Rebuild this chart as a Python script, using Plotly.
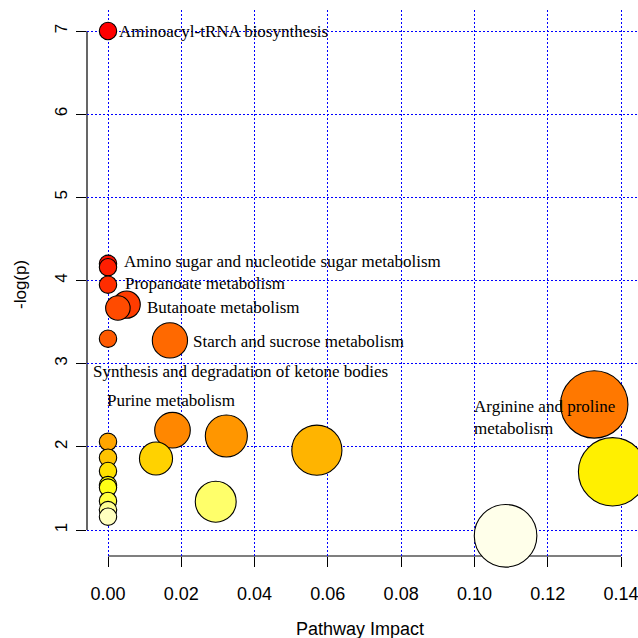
import math
import colorsys
import plotly.graph_objects as go

# Pathway analysis results: impact (x) and -log(p) (y), ordered by significance
impact = [0.0, 0.0, 0.0, 0.0, 0.0051, 0.0027, 0.0, 0.0169, 0.1327, 0.0176,
          0.0323, 0.0, 0.0570, 0.0, 0.0131, 0.0, 0.1377, 0.0, 0.0, 0.0,
          0.0294, 0.0, 0.0, 0.1085]
neg_log_p = [7.00, 4.20, 4.16, 3.95, 3.71, 3.67, 3.30, 3.28, 2.51, 2.20,
             2.13, 2.06, 1.96, 1.87, 1.86, 1.71, 1.70, 1.54, 1.51, 1.35,
             1.34, 1.24, 1.16, 0.93]

x_ticks = [0.00, 0.02, 0.04, 0.06, 0.08, 0.10, 0.12, 0.14]
y_ticks = [1, 2, 3, 4, 5, 6, 7]

label_texts = [
    "Aminoacyl-tRNA biosynthesis",
    "Amino sugar and nucleotide sugar metabolism",
    "Propanoate metabolism",
    "Butanoate metabolism",
    "Starch and sucrose metabolism",
    "Synthesis and degradation of ketone bodies",
    "Purine metabolism",
    "Arginine and proline<br>metabolism",
]
# where each label's left edge / vertical middle sits, in data units
label_anchor = [
    (0.00327, 7.00),
    (0.00464, 4.225),
    (0.00491, 3.958),
    (0.01083, 3.678),
    (0.02347, 3.264),
    (-0.00382, 2.903),
    (0.0001, 2.555),
    (0.10016, 2.347),
]


def heat_colors(n):
    """Equivalent of R's heat.colors(n): red -> yellow -> near white."""
    j = n // 4
    i = n - j
    cols = []
    for k in range(i):
        h = (k / (i - 1)) * (1 / 6) if i > 1 else 0
        cols.append(colorsys.hsv_to_rgb(h, 1, 1))
    if j > 0:
        s_hi, s_lo = 1 - 1 / (2 * j), 1 / (2 * j)
        for k in range(j):
            s = s_hi + (s_lo - s_hi) * (k / (j - 1) if j > 1 else 0)
            cols.append(colorsys.hsv_to_rgb(1 / 6, s, 1))
    return ["rgb(%d,%d,%d)" % (round(r * 255), round(g * 255), round(b * 255))
            for r, g, b in cols]


# colour by significance rank, radius grows with sqrt(impact)
order = sorted(range(len(neg_log_p)), key=lambda k: -neg_log_p[k])
palette = heat_colors(len(neg_log_p))
colors = [None] * len(neg_log_p)
for rank, k in enumerate(order):
    colors[k] = palette[rank]
sizes = [2 * (9.2 + 68.6 * math.sqrt(v)) - 1 for v in impact]

fig = go.Figure(go.Scatter(
    x=impact, y=neg_log_p, mode="markers",
    marker=dict(size=sizes, sizemode="diameter", color=colors, opacity=1,
                line=dict(color="black", width=1.1)),
    cliponaxis=False, hoverinfo="skip", showlegend=False,
))

sans = "Liberation Sans, Arial, sans-serif"
serif = "Liberation Serif, Times New Roman, serif"

axis_common = dict(
    showgrid=True, gridcolor="blue", gridwidth=1, griddash="2px,2px",
    zeroline=False, showline=False,
    ticks="outside", ticklen=10, tickwidth=1, tickcolor="black",
    ticklabeloverflow="allow",
)

fig.update_layout(
    width=638, height=638,
    margin=dict(l=87, r=0, t=10, b=82),
    paper_bgcolor="white", plot_bgcolor="white",
    xaxis=dict(range=[-0.00573, 0.14464], tickvals=x_ticks,
               ticktext=["%.2f" % v for v in x_ticks],
               tickfont=dict(family=sans, size=18, color="black"),
               ticklabelstandoff=11, **axis_common),
    yaxis=dict(range=[0.6874, 7.2525], tickvals=y_ticks,
               ticktext=[str(v) for v in y_ticks], tickangle=-90,
               tickfont=dict(family=sans, size=17, color="black"),
               ticklabelstandoff=2, **axis_common),
)

# axis lines span only first to last tick
fig.add_shape(type="line", xref="paper", yref="y", x0=0, x1=0,
              y0=y_ticks[0], y1=y_ticks[-1],
              line=dict(color="black", width=1.2), layer="between")
fig.add_shape(type="line", xref="x", yref="paper", x0=x_ticks[0], x1=x_ticks[-1],
              y0=0, y1=0, line=dict(color="black", width=1.2), layer="between")

for text, (ax, ay) in zip(label_texts, label_anchor):
    fig.add_annotation(x=ax, y=ay, xref="x", yref="y", text=text,
                       showarrow=False, xanchor="left", yanchor="middle",
                       align="left", xshift=-3,
                       font=dict(family=serif, size=17, color="black"))

# axis titles, positioned in figure pixels and converted to paper units
W, H = 638, 638
pw, ph = W - 87, H - 10 - 82


def px_to_paper(px, py):
    return (px - 87) / pw, (H - 82 - py) / ph


tx, ty = px_to_paper(360, 629)
fig.add_annotation(x=tx, y=ty, xref="paper", yref="paper", text="Pathway Impact",
                   showarrow=False, xanchor="center", yanchor="middle",
                   font=dict(family=sans, size=18, color="black"))
tx, ty = px_to_paper(20, 285)
fig.add_annotation(x=tx, y=ty, xref="paper", yref="paper", text="-log(p)",
                   showarrow=False, textangle=-90,
                   xanchor="center", yanchor="middle",
                   font=dict(family=sans, size=17, color="black"))

fig.write_html("out.html")
